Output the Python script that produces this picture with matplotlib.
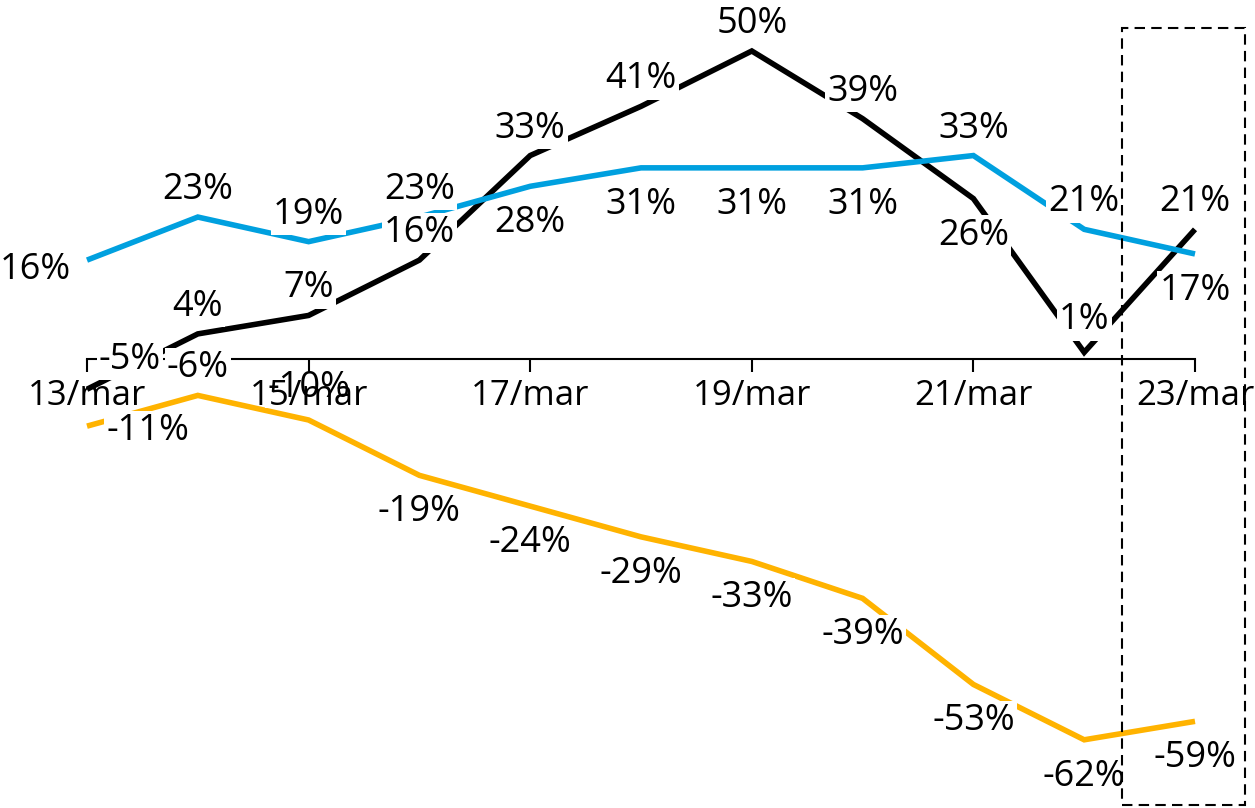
import matplotlib
matplotlib.use("Agg")
import matplotlib.pyplot as plt
from matplotlib.patches import Rectangle

plt.rcParams['font.family'] = ['Open Sans', 'DejaVu Sans']

dates = ["13/mar", "14/mar", "15/mar", "16/mar", "17/mar", "18/mar",
         "19/mar", "20/mar", "21/mar", "22/mar", "23/mar"]
black_vals = [-5, 4, 7, 16, 33, 41, 50, 39, 26, 1, 21]
blue_vals = [16, 23, 19, 23, 28, 31, 31, 31, 33, 21, 17]
orange_vals = [-11, -6, -10, -19, -24, -29, -33, -39, -53, -62, -59]

# label placement (style)
black_pos = ["upright", "above", "above", "above", "above", "above",
             "above", "above", "below", "high", "above"]
blue_pos = ["left", "above", "above", "above", "below", "below",
            "below", "below", "above", "above", "below"]
orange_pos = ["right", "above", "high", "below", "below", "below",
              "below", "below", "below", "below", "below"]

OFFS = {"above": (0, 31), "high": (0, 36), "below": (0, -33),
        "left": (-52, -6), "right": (61, -1), "upright": (43, 33)}

W, H = 1255, 808
fig = plt.figure(figsize=(W / 100, H / 100), dpi=100)
x0, x1 = 87, 1195
y_zero = 358.5
scale = 6.15
ax = fig.add_axes([x0 / W, 0, (x1 - x0) / W, 1])
ax.set_xlim(0, len(dates) - 1)
ax.set_ylim(-(H - y_zero) / scale, y_zero / scale)

xs = list(range(len(dates)))
series = [(black_vals, black_pos, "#000000"),
          (blue_vals, blue_pos, "#00A0DF"),
          (orange_vals, orange_pos, "#FFB300")]
for vals, pos, col in series:
    ax.plot(xs, vals, color=col, lw=4.0, solid_joinstyle="miter",
            solid_capstyle="butt", zorder=2, clip_on=False)
for vals, pos, col in series:
    for xi, v, p in zip(xs, vals, pos):
        dx, dy = OFFS[p]
        ax.annotate(f"{v}%", (xi, v), xytext=(dx, dy - 13),
                    textcoords="offset pixels", ha="center", va="baseline",
                    fontsize=26, color="black", zorder=3,
                    annotation_clip=False,
                    bbox=dict(boxstyle="square,pad=0.06", fc="white",
                              ec="none"))

for s in ["left", "right", "top"]:
    ax.spines[s].set_visible(False)
ax.spines["bottom"].set_position(("data", 0))
ax.spines["bottom"].set_linewidth(1.5)
ax.spines["bottom"].set_zorder(1)
ax.xaxis.set_zorder(4)
ax.set_yticks([])
ax.set_xticks(xs[::2])
ax.set_xticklabels(dates[::2])
ax.tick_params(axis="x", direction="out", length=9.5, width=1.5,
               labelsize=25, pad=5)
ax.patch.set_alpha(0)

rect = Rectangle((1122 / W, 1 - 805 / H), (1245 - 1122) / W, (805 - 28) / H,
                 transform=fig.transFigure, fill=False, ec="black",
                 lw=1.5, ls=(0, (5, 3)), zorder=10)
fig.patches.append(rect)

fig.savefig("out.png", dpi=100, facecolor="white")
